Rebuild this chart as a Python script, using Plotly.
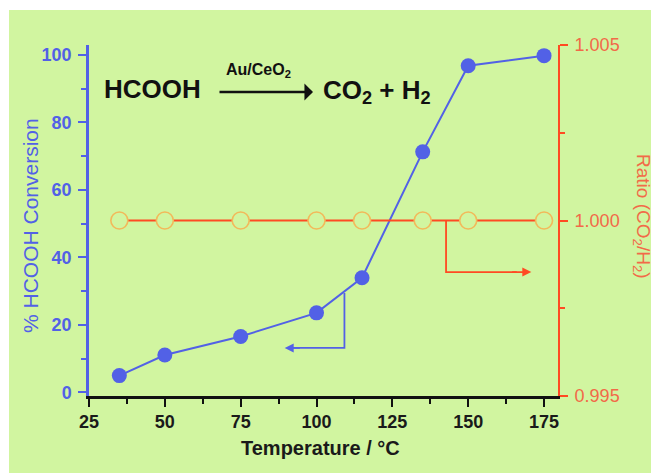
import plotly.graph_objects as go

# Data
temperature = [35, 50, 75, 100, 115, 135, 150, 175]
conversion = [5.0, 11.1, 16.6, 23.6, 34.0, 71.3, 96.8, 99.8]
ratio = [1.000, 1.000, 1.000, 1.000, 1.000, 1.000, 1.000, 1.000]

x_ticks = [25, 50, 75, 100, 125, 150, 175]
y_ticks = [0, 20, 40, 60, 80, 100]
y2_ticks = [0.995, 1.000, 1.005]
y2_ticktext = ["0.995", "1.000", "1.005"]

BG = "#d1f5a0"
BLUE = "#5261e6"
RED = "#ff4a22"
RED_TXT = "#f26a48"
ORANGE_RING = "#f2b95a"
FONT = "Liberation Sans"


def px_x(p):
    return (p - 89) / 469.0


def px_y(p):
    return (396 - p) / 351.0


fig = go.Figure()

# Ratio line (hollow circles hide the line inside)
fig.add_trace(go.Scatter(
    x=temperature, y=ratio, yaxis="y2", mode="lines",
    line=dict(color=RED, width=2), showlegend=False, hoverinfo="skip"))
fig.add_trace(go.Scatter(
    x=temperature, y=ratio, yaxis="y2", mode="markers",
    marker=dict(size=17, color=BG, line=dict(color=ORANGE_RING, width=1.6)),
    showlegend=False))

# Conversion
fig.add_trace(go.Scatter(
    x=temperature, y=conversion, mode="lines+markers",
    line=dict(color=BLUE, width=2),
    marker=dict(size=15, color=BLUE),
    showlegend=False))

# Blue pointer (to left axis)
blue_path_x = [109.2, 109.2, 92]
blue_path_y = [29.5, 13.2, 13.2]
fig.add_trace(go.Scatter(x=blue_path_x, y=blue_path_y, mode="lines",
                         line=dict(color=BLUE, width=1.8), showlegend=False, hoverinfo="skip"))
fig.add_annotation(x=89.5, y=13.2, ax=95, ay=13.2, xref="x", yref="y", axref="x", ayref="y",
                   text="", showarrow=True, arrowhead=2, arrowsize=1, arrowwidth=1.8, arrowcolor=BLUE)

# Red pointer (to right axis)
red_path_x = [142.7, 142.7, 166]
red_path_y = [1.000, 0.99853, 0.99853]
fig.add_trace(go.Scatter(x=red_path_x, y=red_path_y, yaxis="y2", mode="lines",
                         line=dict(color=RED, width=1.8), showlegend=False, hoverinfo="skip"))
fig.add_annotation(x=170.8, y=0.99853, ax=164, ay=0.99853, xref="x", yref="y2", axref="x", ayref="y2",
                   text="", showarrow=True, arrowhead=2, arrowsize=1, arrowwidth=1.8, arrowcolor=RED)

# Reaction equation
fig.add_annotation(x=px_x(102), y=px_y(89), xref="paper", yref="paper", text="<b>HCOOH</b>",
                   showarrow=False, xanchor="left", yanchor="middle",
                   font=dict(family=FONT, size=26, color="#111111"))
fig.add_annotation(x=px_x(313), y=px_y(92), ax=px_x(218), ay=px_y(92),
                   xref="x domain", yref="y domain", axref="x domain", ayref="y domain",
                   text="", showarrow=True, arrowhead=1, arrowsize=1.1, arrowwidth=2.6,
                   arrowcolor="#111111")
fig.add_annotation(x=px_x(258), y=px_y(70), xref="paper", yref="paper",
                   text="<b>Au/CeO<sub>2</sub></b>", showarrow=False,
                   xanchor="center", yanchor="middle",
                   font=dict(family=FONT, size=16, color="#111111"))
fig.add_annotation(x=px_x(321), y=px_y(91), xref="paper", yref="paper",
                   text="<b>CO<sub>2</sub> + H<sub>2</sub></b>", showarrow=False,
                   xanchor="left", yanchor="middle",
                   font=dict(family=FONT, size=26, color="#111111"))

# Axis titles
fig.add_annotation(x=px_x(30), y=px_y(226), xref="paper", yref="paper",
                   text="% HCOOH Conversion", textangle=-90, showarrow=False,
                   xanchor="center", yanchor="middle",
                   font=dict(family=FONT, size=21, color=BLUE))
fig.add_annotation(x=px_x(642), y=px_y(216), xref="paper", yref="paper",
                   text="Ratio (CO<sub>2</sub>/H<sub>2</sub>)", textangle=90, showarrow=False,
                   xanchor="center", yanchor="middle",
                   font=dict(family=FONT, size=19, color=RED_TXT))
fig.add_annotation(x=px_x(320), y=px_y(448), xref="paper", yref="paper",
                   text="<b>Temperature / °C</b>", showarrow=False,
                   xanchor="center", yanchor="middle",
                   font=dict(family=FONT, size=20, color="#1a1a1a"))

# Background with white border at top/left
fig.add_shape(type="rect", xref="paper", yref="paper",
              x0=px_x(9), x1=px_x(700), y0=px_y(500), y1=px_y(10),
              fillcolor=BG, line=dict(width=0), layer="below")

fig.update_layout(
    width=651, height=465,
    margin=dict(l=81, r=101, t=37, b=77),
    paper_bgcolor="white", plot_bgcolor=BG,
    xaxis=dict(range=[25, 179.6], tickvals=x_ticks, showgrid=False, zeroline=False,
               showline=True, linecolor="#111111", linewidth=2.5,
               ticks="outside", ticklen=8, tickwidth=2, tickcolor="#111111",
               minor=dict(dtick=12.5, tick0=25, ticks="outside", ticklen=5, tickwidth=2, tickcolor="#111111"),
               tickfont=dict(family=FONT, size=18, color="#1a1a1a", weight="bold")),
    yaxis=dict(range=[-1.04, 102.96], tickvals=y_ticks, showgrid=False, zeroline=False,
               showline=True, linecolor=BLUE, linewidth=2.5,
               ticks="outside", ticklen=8, tickwidth=2, tickcolor=BLUE,
               ticklabelstandoff=3,
               minor=dict(dtick=10, tick0=0, ticks="outside", ticklen=5, tickwidth=2, tickcolor=BLUE),
               tickfont=dict(family=FONT, size=18, color=BLUE, weight="bold")),
    yaxis2=dict(range=[0.995, 1.005], overlaying="y", side="right", anchor="x",
                tickvals=y2_ticks, ticktext=y2_ticktext, showgrid=False, zeroline=False,
                showline=True, linecolor=RED, linewidth=2,
                ticks="outside", ticklen=8, tickwidth=2, tickcolor=RED,
                ticklabelstandoff=3,
                minor=dict(dtick=0.0025, tick0=0.995, ticks="outside", ticklen=5, tickwidth=2, tickcolor=RED),
                tickfont=dict(family=FONT, size=18, color=RED_TXT)),
)

fig.write_html("out.html")
